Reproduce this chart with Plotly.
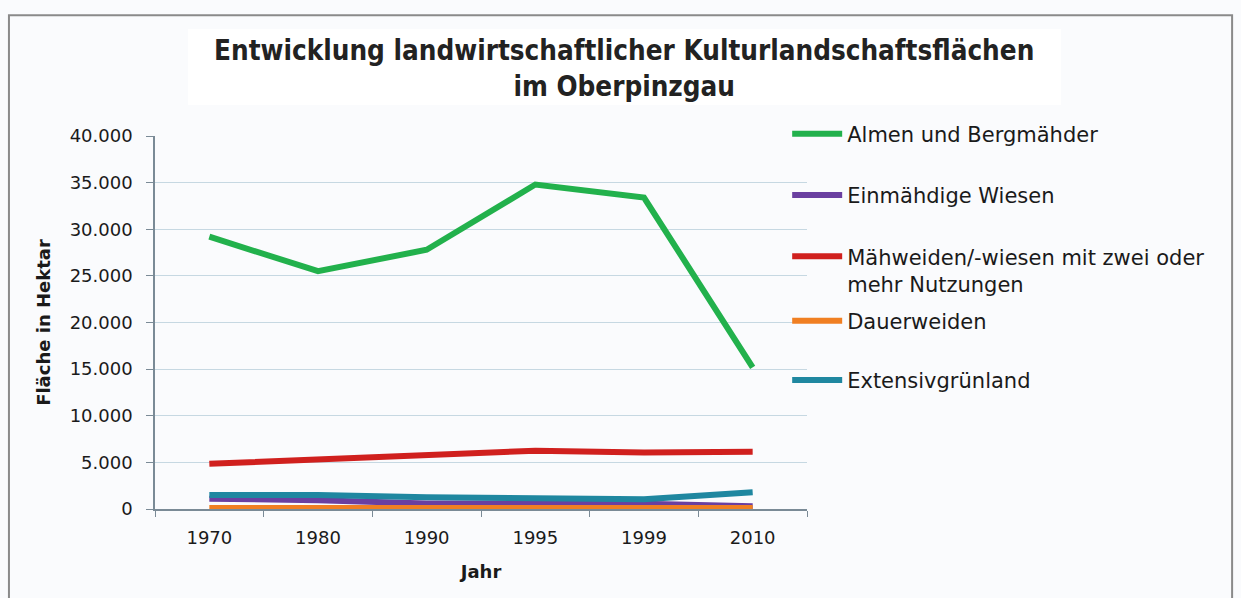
import plotly.graph_objects as go

years = ["1970", "1980", "1990", "1995", "1999", "2010"]
almen = [29200, 25500, 27800, 34800, 33400, 15200]
einmaehdig = [1100, 950, 600, 550, 550, 300]
maehweiden = [4850, 5350, 5750, 6250, 6050, 6150]
dauerweiden = [100, 100, 100, 100, 100, 100]
extensiv = [1500, 1500, 1250, 1100, 1050, 1800]

names = ["Almen und Bergmähder", "Einmähdige Wiesen",
         "Mähweiden/-wiesen mit zwei oder<br>mehr Nutzungen", "Dauerweiden",
         "Extensivgrünland"]
colors = ["#22b14c", "#6a3fa0", "#d0201e", "#f07f22", "#1f87a0"]
series = [almen, einmaehdig, maehweiden, dauerweiden, extensiv]
legend_of = ["legend", "legend", "legend", "legend2", "legend2"]

FONT = "DejaVu Sans"
TITLE_FONT = "DejaVu Sans Condensed"
AX = "#7a8a96"

fig = go.Figure()
for i in range(len(series)):
    fig.add_trace(go.Scatter(
        x=years, y=series[i], name=names[i], mode="lines",
        line=dict(color=colors[i], width=6),
        legendgroup=str(i), legend=legend_of[i],
    ))

legend_common = dict(xanchor="left", yanchor="top",
                     font=dict(family=FONT, size=21, color="#1a1a1a"),
                     valign="top", bgcolor="rgba(0,0,0,0)",
                     itemwidth=50, maxheight=600)

fig.update_layout(
    width=1241, height=598,
    margin=dict(l=155, r=434, t=136, b=89),
    paper_bgcolor="#fafbfd", plot_bgcolor="#fafbfd",
    separators=",.",
    font=dict(family=FONT, color="#1a1a1a", size=18),
    title=dict(text="<b>Entwicklung landwirtschaftlicher Kulturlandschaftsflächen<br>im Oberpinzgau</b>",
               x=0.503, xanchor="center", y=0.900, yanchor="middle",
               font=dict(family=TITLE_FONT, size=27.6, color="#222222")),
    showlegend=True,
    legend=dict(x=0.9696, y=1.06, tracegroupgap=31, **legend_common),
    legend2=dict(x=0.9696, y=0.559, tracegroupgap=29, **legend_common),
    xaxis=dict(type="category", tickson="boundaries", range=[-0.5, 5.5],
               ticks="outside", ticklen=6, tickcolor=AX,
               showline=True, linecolor=AX, linewidth=1.5,
               showgrid=False, automargin=False, ticklabelstandoff=12,
               title=dict(text="<b>Jahr</b>", font=dict(size=18), standoff=18),
               tickfont=dict(size=18)),
    yaxis=dict(range=[0, 40000], tickvals=[0, 5000, 10000, 15000, 20000, 25000, 30000, 35000, 40000],
               tickformat=",d", ticks="outside", ticklen=7, tickcolor=AX,
               showline=True, linecolor=AX, linewidth=1.5,
               showgrid=True, gridcolor="#c6d8e2", gridwidth=1, zeroline=False,
               automargin=False, ticklabelstandoff=10,
               title=dict(text="<b>Fläche in Hektar</b>", font=dict(size=18), standoff=14),
               tickfont=dict(size=18)),
    shapes=[
        dict(type="rect", xref="paper", yref="paper", x0=-0.224, x1=1.652,
             y0=-0.35, y1=1.324, line=dict(color="#8a8a8a", width=2), fillcolor="rgba(0,0,0,0)",
             layer="below"),
        dict(type="rect", xref="paper", yref="paper", x0=0.0506, x1=1.3896,
             y0=1.083, y1=1.287, line=dict(width=0), fillcolor="#ffffff", layer="below"),
    ],
)

fig.write_html("out.html", config={"displayModeBar": False},
               post_script="document.body.style.margin='0';")
